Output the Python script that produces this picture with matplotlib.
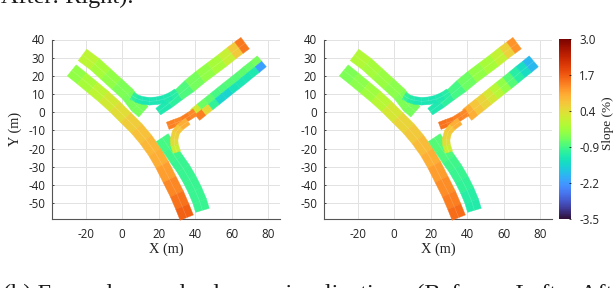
import numpy as np
import matplotlib
matplotlib.use("Agg")
import matplotlib.pyplot as plt
from matplotlib.collections import PolyCollection
from matplotlib.colors import Normalize
from matplotlib.cm import ScalarMappable

plt.rcParams["axes.unicode_minus"] = False
SERIF = "Liberation Serif"
SANS = "Open Sans"

# road centre lines (m)
a_x = [-27.6, -22, -16, -10, -4, 2, 8, 13, 18, 22, 26, 30, 33, 35.4]
a_y = [23, 18.5, 13.5, 8.5, 3, -3, -9, -15, -22, -29, -37, -45, -52, -58]
b_x = [-21.7, -15, -9, -3, 3, 8, 11.7]
b_y = [31.5, 26.5, 21, 15.5, 10, 3.5, 0.3]
c_x = [5.5, 8, 11, 15, 19, 23, 27, 30]
c_y = [9, 7.5, 6.5, 6, 6.3, 7.2, 9, 11]
d_x = [19.8, 26, 31, 37, 43, 49, 55, 60, 64, 67.4]
d_y = [0.3, 5, 9.5, 14.5, 19.5, 24, 28.5, 32.5, 35.5, 38]
e_x = [25, 29, 33, 37, 40]
e_y = [-7.5, -6, -4.5, -2, 0]
f_x = [40, 43.6, 47.3, 51, 54.6, 58.3, 62, 65.6, 69.2, 72.9, 76.5]
f_y = [-1.5, 1.5, 4.4, 7.4, 10.3, 13.3, 16.2, 19.1, 22.1, 25, 28]
g_x = [30, 28.7, 28.5, 29.5, 32, 36]
g_y = [-22, -18, -15, -11, -8, -5]
h_x = [22, 26, 30, 33.5, 37, 40, 42.5, 44]
h_y = [-14, -20, -26, -31, -37, -43, -49, -54]

# slope (%) at each centre line point, before
before_a = [-0.5, -0.3, -0.1, 0.1, 0.3, 0.5, 0.7, 0.8, 0.9, 1.0, 1.2, 1.4, 1.6, 1.7]
before_b = [0.1, -0.1, -0.3, -0.5, -0.6, -0.6, -0.6]
before_c = [-1.0, -1.2, -1.3, -1.3, -1.3, -1.3, -1.2, -1.1]
before_d = [-1.3, -1.2, -1.0, -0.7, -0.5, -0.3, -0.1, 0.3, 1.0, 1.9]
before_e = [1.4, 1.3, 1.3, 1.5, 1.1]
before_f_up = [1.0, -0.6, -0.7, -0.8, -1.0, -0.7, -0.9, -0.7, -0.8, -0.6, -0.6]
before_f_low = [1.3, 1.5, -0.6, -1.5, -1.6, -1.5, -1.2, -1.4, -1.2, -1.3, -3.0]
before_g = [0.0, 0.3, 0.5, 0.6, 0.8, 1.1]
before_h = [-0.9, -0.9, -1.0, -1.0, -1.0, -1.0, -1.0, -1.0]

# slope (%), after
after_a = [-0.6, -0.5, -0.4, -0.2, 0.1, 0.4, 0.6, 0.7, 0.9, 1.0, 1.2, 1.3, 1.5, 1.6]
after_b = [0.0, -0.2, -0.3, -0.4, -0.5, -0.6, -0.6]
after_c = [-1.0, -1.1, -1.3, -1.3, -1.3, -1.3, -1.2, -1.1]
after_d = [-1.3, -1.2, -1.0, -0.8, -0.5, -0.3, -0.1, 0.2, 0.9, 1.5]
after_e = [1.5, 1.5, 1.4, 1.3, 1.3]
after_f = [1.1, 0.8, 0.6, 0.4, 0.1, -0.2, -0.6, -1.0, -1.3, -1.6, -2.2]
after_g = [0.0, 0.3, 0.5, 0.6, 0.8, 1.1]
after_h = [-0.8, -0.8, -0.9, -1.0, -1.0, -1.1, -1.2, -1.2]

x_ticks = [-20, 0, 20, 40, 60, 80]
y_ticks = [40, 30, 20, 10, 0, -10, -20, -30, -40, -50]
cbar_ticks = [3.0, 1.7, 0.4, -0.9, -2.2, -3.5]

norm = Normalize(-3.5, 3.0)
cmap = plt.get_cmap("turbo")
ROAD_W = 7.8
RAMP_W = 4.2
D_W = [4.4, 5.4, 6.6, 7.8, 7.8, 7.8, 7.8, 7.8, 7.8, 7.8]


def ribbon(ax, xs, ys, slopes, width=ROAD_W, shift=0.0, line=True):
    """Road as a strip of quads around its centre line, coloured by slope."""
    xs, ys = np.array(xs, float), np.array(ys, float)
    dx, dy = np.gradient(xs), np.gradient(ys)
    n = np.hypot(dx, dy)
    nx, ny = -dy / n, dx / n
    w = np.broadcast_to(width, xs.shape) / 2
    lx, ly = xs + nx * (shift + w), ys + ny * (shift + w)
    rx, ry = xs + nx * (shift - w), ys + ny * (shift - w)
    quads = [[(lx[i], ly[i]), (lx[i + 1], ly[i + 1]), (rx[i + 1], ry[i + 1]), (rx[i], ry[i])]
             for i in range(len(xs) - 1)]
    s = np.array(slopes, float)
    pc = PolyCollection(quads, array=(s[:-1] + s[1:]) / 2, cmap=cmap, norm=norm,
                        edgecolors="face", linewidths=0.3, clip_on=False, zorder=3)
    ax.add_collection(pc)
    if line:
        ax.plot(xs, ys, color="white", lw=0.3, alpha=0.3, zorder=4, clip_on=False)


def panel(rect):
    ax = fig.add_axes(rect)
    ax.set_xlim(-38.4, 86.5)
    ax.set_ylim(-58.5, 40)
    ax.set_xticks(x_ticks)
    ax.set_yticks(y_ticks)
    ax.grid(True, color="#e2e2e2", lw=0.7)
    ax.set_axisbelow(True)
    for side in ("top", "right"):
        ax.spines[side].set_visible(False)
    for side in ("left", "bottom"):
        ax.spines[side].set_color("#555555")
        ax.spines[side].set_linewidth(0.8)
    ax.tick_params(axis="x", length=0, pad=7, labelsize=8.3, labelcolor="#222222")
    ax.tick_params(axis="y", length=1.5, width=0.5, direction="in", pad=5, labelsize=8.3,
                   labelcolor="#222222")
    for lab in ax.get_xticklabels() + ax.get_yticklabels():
        lab.set_fontfamily(SANS)
    ax.set_xlabel("X (m)", family=SERIF, fontsize=10.4, labelpad=1, color="#222222")
    return ax


fig = plt.figure(figsize=(6.16, 2.88), dpi=100)
W, H = 616, 288

ax1 = panel([52 / W, (H - 218.5) / H, 228 / W, 179 / H])
ax1.set_ylabel("Y (m)", family=SERIF, fontsize=10.4, labelpad=4, color="#222222")
ribbon(ax1, a_x, a_y, before_a)
ribbon(ax1, h_x, h_y, before_h)
ribbon(ax1, b_x, b_y, before_b)
ribbon(ax1, d_x, d_y, before_d, width=D_W)
ribbon(ax1, f_x, f_y, before_f_up, width=ROAD_W / 2, shift=ROAD_W / 4, line=False)
ribbon(ax1, f_x, f_y, before_f_low, width=ROAD_W / 2, shift=-ROAD_W / 4, line=False)
ribbon(ax1, e_x, e_y, before_e, width=RAMP_W)
ribbon(ax1, g_x, g_y, before_g, width=RAMP_W)
ribbon(ax1, c_x, c_y, before_c, width=RAMP_W)

ax2 = panel([324 / W, (H - 218.5) / H, 228 / W, 179 / H])
ribbon(ax2, a_x, a_y, after_a)
ribbon(ax2, h_x, h_y, after_h)
ribbon(ax2, b_x, b_y, after_b)
ribbon(ax2, d_x, d_y, after_d, width=D_W)
ribbon(ax2, f_x, f_y, after_f)
ribbon(ax2, e_x, e_y, after_e, width=RAMP_W)
ribbon(ax2, g_x, g_y, after_g, width=RAMP_W)
ribbon(ax2, c_x, c_y, after_c, width=RAMP_W)

# colour bar
cax = fig.add_axes([559 / W, (H - 218.5) / H, 12 / W, 179.5 / H])
cb = fig.colorbar(ScalarMappable(norm=norm, cmap=cmap), cax=cax, ticks=cbar_ticks)
cb.outline.set_visible(False)
cax.tick_params(length=1.5, direction="in", width=0.5, pad=6, labelsize=8.3, labelcolor="#222222")
cax.set_yticklabels(["3.0", "1.7", "0.4", "-0.9", "-2.2", "-3.5"], family=SANS)
fig.text(608 / W, (H - 123) / H, "Slope (%)", family=SERIF, fontsize=9.5, rotation=90,
         ha="center", va="center", color="#222222")

# caption of the paper, cut by the crop
fig.text(1 / W, (H - 3) / H, "After: Right).", family=SERIF, fontsize=17.5, color="#1a1a1a",
         ha="left", va="baseline")
fig.text(3 / W, (H - 300) / H, "(b) Example   road   slope   visualization   (Before:   Left;   After",
         family=SERIF, fontsize=17.5, color="#1a1a1a", ha="left", va="baseline")

fig.savefig("out.png", dpi=100)
